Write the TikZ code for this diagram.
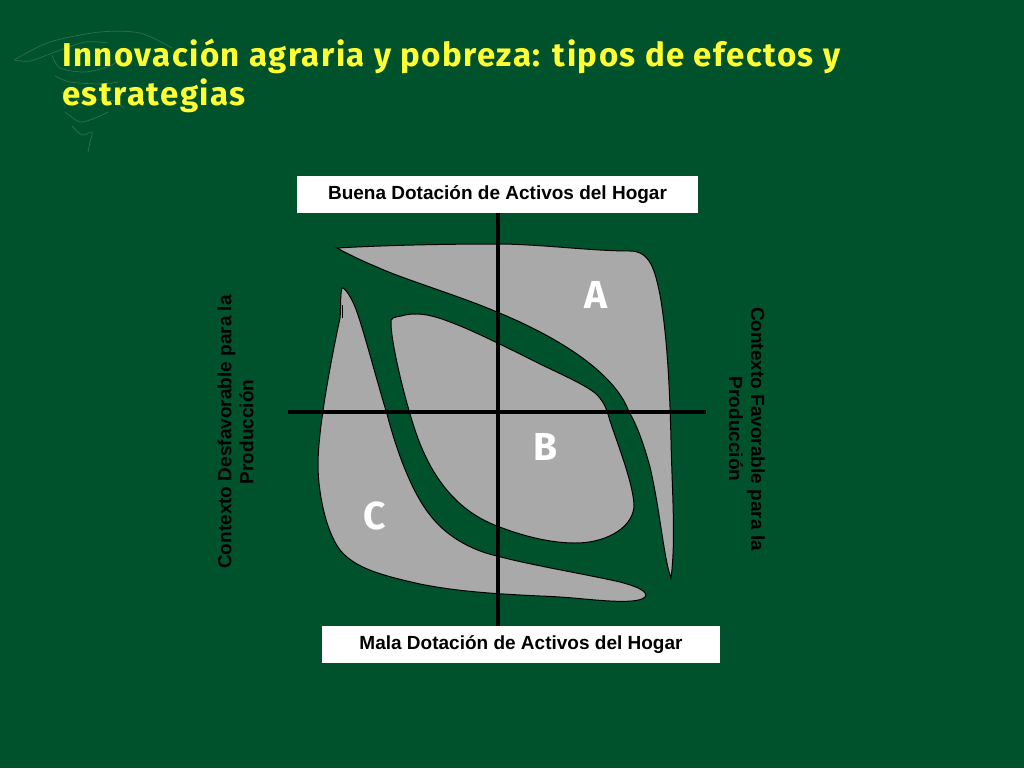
\documentclass[tikz,border=0pt]{standalone}
\usepackage{fontspec}
\setmainfont{Liberation Sans}
\newfontfamily\titlefont[LetterSpace=4.5]{Fira Sans}
\newfontfamily\markfont{Fira Sans}
\usepackage{xcolor}
\definecolor{fondo}{HTML}{00522D}
\definecolor{gris}{HTML}{A9A9A9}
\definecolor{amarillo}{HTML}{FFFF33}
\definecolor{logo}{HTML}{2F6E4E}
\tikzset{
  dotacion/.style={fill=white,inner sep=0pt,font=\bfseries\fontsize{19}{20}\selectfont},
  contexto/.style={text=black,align=center,font=\bfseries\fontsize{19}{22}\selectfont},
  zona/.style={fill=gris,draw=black,line width=1pt},
  eje/.style={black,line width=4pt},
  letra/.style={text=white,font=\markfont\bfseries\fontsize{39}{40}\selectfont},
  trazo/.style={logo,line width=.7pt}
}
\begin{document}
\begin{tikzpicture}[x=1pt,y=-1pt]
  \fill[fondo] (0,0) rectangle (1024,768);
  \useasboundingbox (0,0) rectangle (1024,768);
  % logo
  \draw[trazo] plot[smooth] coordinates {(14,60) (50,42) (100,32) (140,33) (172,48)};
  \draw[trazo] plot[smooth] coordinates {(14,60) (30,61) (55,52) (85,42) (108,43)};
  \draw[trazo] plot[smooth] coordinates {(52,55) (60,68) (85,72) (110,66) (118,60)};
  \draw[trazo] plot[smooth] coordinates {(55,76) (70,82) (100,84) (118,82)};
  \draw[trazo] plot[smooth] coordinates {(62,92) (80,100) (110,100) (124,108)};
  \draw[trazo] plot[smooth] coordinates {(65,112) (80,122) (95,118) (108,112)};
  \draw[trazo] plot[smooth] coordinates {(72,126) (82,135) (92,132) (90,142) (88,152)};
  % titulo
  \node[anchor=north west,inner sep=0pt,align=left,text=amarillo,font=\titlefont\bfseries\fontsize{33}{39}\selectfont] (titulo) at (62,39)
    {Innovación agraria y pobreza: tipos de efectos y\\estrategias};
  % zonas
  \draw[zona] (337,248) .. controls (390,245) and (450,244) .. (497,244) .. controls (540,244) and (590,251) .. (630,251)
    .. controls (650,251) and (655,270) .. (660,295) .. controls (668,340) and (670,400) .. (671,440)
    .. controls (672,490) and (676,540) .. (671,578) .. controls (664,560) and (660,510) .. (650,467)
    .. controls (644,445) and (637,425) .. (629,412) .. controls (617,378) and (570,342) .. (497,312)
    .. controls (460,296) and (400,278) .. (377,267)
    .. controls (360,260) and (348,254) .. (337,248) -- cycle;
  \draw[zona] (391,320) .. controls (393,316) and (400,317) .. (405,315) .. controls (420,312) and (435,316) .. (450,322)
    .. controls (470,329) and (510,349) .. (540,364) .. controls (565,376) and (585,385) .. (595,393)
    .. controls (603,400) and (606,408) .. (608,414) .. controls (612,430) and (633,480) .. (634,505)
    .. controls (634,525) and (610,543) .. (575,543) .. controls (545,543) and (515,533) .. (497,526)
    .. controls (455,510) and (430,475) .. (415,430) .. controls (405,400) and (390,340) .. (391,320) -- cycle;
  \draw[zona] (342,288) .. controls (345,287) and (353,300) .. (357,312) .. controls (365,335) and (378,385) .. (387,414)
    .. controls (395,445) and (410,490) .. (430,515) .. controls (445,535) and (470,550) .. (497,556)
    .. controls (530,565) and (590,575) .. (620,582) .. controls (635,586) and (645,590) .. (646,595)
    .. controls (645,601) and (630,602) .. (610,601) .. controls (590,600) and (570,597) .. (540,596)
    .. controls (500,594) and (460,592) .. (420,584) .. controls (380,575) and (355,568) .. (340,550)
    .. controls (325,530) and (318,490) .. (318,465) .. controls (318,430) and (330,365) .. (340,318)
    .. controls (341,308) and (340,295) .. (342,288) -- cycle;
  \draw[black,line width=.8pt] (342,305) -- (342,318);
  % recuadros
  \node[dotacion,minimum width=401pt,minimum height=37pt] (buena) at (497.5,194.5) {Buena Dotación de Activos del Hogar};
  \node[dotacion,minimum width=398pt,minimum height=37pt] (mala) at (521,644.5) {Mala Dotación de Activos del Hogar};
  % ejes
  \coordinate (oeste) at (288,412);
  \coordinate (este) at (706,412);
  \draw[eje] (buena.south) -- (buena.south |- mala.north);
  \draw[eje] (oeste) -- (este);
  \node[contexto,rotate=90] (desfavorable) at (235.5,432) {Contexto Desfavorable para la\\Producción};
  \node[contexto,rotate=-90] (favorable) at (747,429) {Contexto Favorable para la\\Producción};
  \node[letra] (zonaA) at (596,295) {A};
  \node[letra] (zonaB) at (546,447) {B};
  \node[letra] (zonaC) at (375,516) {C};
\end{tikzpicture}
\end{document}
